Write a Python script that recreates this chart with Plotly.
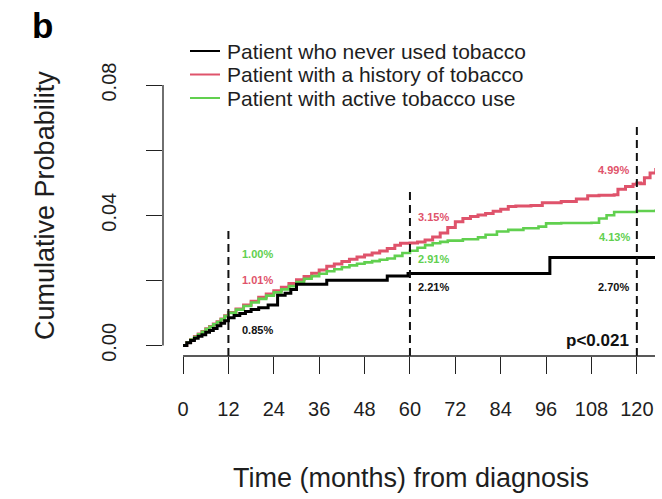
import plotly.graph_objects as go

# Cumulative incidence curves by tobacco status (months from diagnosis)
never_t = [0, 1, 2, 3, 4, 5, 6, 7, 8, 9, 10, 11, 12, 13.5, 15, 16.5, 18, 20, 22.5,
           25, 27, 28.5, 30, 38, 54, 59.5, 97, 125]
never_y = [0, 0.0008, 0.0015, 0.0022, 0.0028, 0.0033, 0.0040, 0.0046, 0.0052, 0.0060,
           0.0068, 0.0076, 0.0085, 0.0092, 0.0098, 0.0104, 0.0110, 0.0116, 0.0124,
           0.0154, 0.0160, 0.0172, 0.0188, 0.0200, 0.0213, 0.0221, 0.0270, 0.0270]

history_t = [0, 1, 2, 3, 4, 5, 6, 7, 8, 9, 10, 11, 12, 14, 16, 18, 20, 22, 24, 26, 28,
             30, 32, 34, 36, 38, 40, 42, 44, 46, 48, 50, 52, 54, 56, 57.5, 60, 62, 64,
             66, 68, 70, 72, 74, 76, 78, 80, 82, 84, 86, 88, 92, 95, 100, 104, 107, 110,
             114, 115, 117, 119, 120, 121, 122, 123.5, 125]
history_y = [0, 0.0009, 0.0018, 0.0027, 0.0035, 0.0043, 0.0051, 0.0058, 0.0066, 0.0073,
             0.0081, 0.0091, 0.0101, 0.0112, 0.0124, 0.0136, 0.0148, 0.0158, 0.0168,
             0.0179, 0.0190, 0.0202, 0.0212, 0.0222, 0.0232, 0.0243, 0.0250, 0.0258,
             0.0265, 0.0272, 0.0278, 0.0284, 0.0290, 0.0298, 0.0308, 0.0314, 0.0315,
             0.0318, 0.0324, 0.0333, 0.0345, 0.0362, 0.0380, 0.0390, 0.0396, 0.0401,
             0.0405, 0.0412, 0.0418, 0.0427, 0.0428, 0.0430, 0.0438, 0.0442, 0.0450,
             0.0460, 0.0461, 0.0463, 0.0480, 0.0488, 0.0495, 0.0499, 0.0497, 0.0515,
             0.0530, 0.0545]

active_t = [0, 1, 2, 3, 4, 5, 6, 7, 8, 9, 10, 11, 12, 14, 16, 18, 20, 22, 24, 26, 28,
            30, 32, 34, 36, 38, 40, 42, 44, 46, 48, 50, 52, 54, 56, 58, 60, 62, 64, 66,
            68, 70, 74, 78, 80, 83, 86, 90, 94, 96, 100, 108, 110, 112, 114, 120, 124, 125]
active_y = [0, 0.0009, 0.0018, 0.0026, 0.0034, 0.0042, 0.0050, 0.0057, 0.0065, 0.0072,
            0.0080, 0.0090, 0.0100, 0.0110, 0.0121, 0.0132, 0.0143, 0.0153, 0.0163,
            0.0172, 0.0182, 0.0195, 0.0205, 0.0213, 0.0220, 0.0228, 0.0234, 0.0240,
            0.0246, 0.0251, 0.0255, 0.0259, 0.0263, 0.0267, 0.0275, 0.0284, 0.0291,
            0.0300, 0.0308, 0.0314, 0.0318, 0.0322, 0.0326, 0.0332, 0.0340, 0.0350,
            0.0355, 0.0360, 0.0365, 0.0375, 0.0376, 0.0377, 0.0390, 0.0400, 0.0410,
            0.0413, 0.0413, 0.0418]

series_names = ["Patient who never used tobacco",
                "Patient with a history of tobacco",
                "Patient with active tobacco use"]
series_colors = ["#000000", "#DF536B", "#61D04F"]

# Milestone estimates (months, cumulative probability in %)
milestones = [12, 60, 120]
never_pct = [0.85, 2.21, 2.70]
history_pct = [1.01, 3.15, 4.99]
active_pct = [1.00, 2.91, 4.13]
p_text = "p<0.021"

x_ticks = [0, 12, 24, 36, 48, 60, 72, 84, 96, 108, 120]
y_ticks = [0, 0.02, 0.04, 0.06, 0.08]
y_ticktext = ["0.00", "", "0.04", "", "0.08"]

FONT = "Liberation Sans, Arial, sans-serif"
TXT = "#1e1e1e"

fig = go.Figure()
for t, y, c, w in [(history_t, history_y, series_colors[1], 3),
                   (active_t, active_y, series_colors[2], 2.6),
                   (never_t, never_y, series_colors[0], 3)]:
    fig.add_trace(go.Scatter(x=t, y=y, mode="lines", line=dict(color=c, width=w, shape="hv"),
                             showlegend=False, hoverinfo="skip"))

Y0, Y1 = -0.00326, 0.0877
shapes = []
# dashed reference lines at the milestones
dash_tops = [0.0361, 0.0471, 0.0673]
for m, top in zip(milestones, dash_tops):
    shapes.append(dict(type="line", xref="x", yref="y", x0=m, x1=m, y0=Y0, y1=top,
                       line=dict(color="#111111", width=2, dash="8px,5px")))
# axis lines in base-graphics style
shapes.append(dict(type="line", xref="x", yref="paper", x0=0, x1=125, y0=0, y1=0,
                   line=dict(color="#222222", width=1.3)))
shapes.append(dict(type="line", xref="paper", yref="y", x0=0, x1=0, y0=0, y1=0.08,
                   line=dict(color="#222222", width=1.3)))

annotations = []
# percentage labels
label_pos = {
    "never": ([19.8, 66.1, 113.7], [0.0047, 0.0178, 0.0178]),
    "history": ([19.8, 66.1, 113.7], [0.0201, 0.0394, 0.0539]),
    "active": ([19.8, 66.1, 114.2], [0.0281, 0.0267, 0.0332]),
}
for key, pcts, col in [("never", never_pct, "#111111"),
                       ("history", history_pct, series_colors[1]),
                       ("active", active_pct, series_colors[2])]:
    xs, ys = label_pos[key]
    for x, y, p in zip(xs, ys, pcts):
        annotations.append(dict(x=x, y=y, xref="x", yref="y", text=f"<b>{p:.2f}%</b>",
                                showarrow=False, font=dict(family=FONT, size=11, color=col)))
annotations.append(dict(x=109.7, y=0.0015, xref="x", yref="y", text=f"<b>{p_text}</b>",
                        showarrow=False, font=dict(family=FONT, size=17, color="#111111")))

# legend drawn by hand
leg_y = [1.0304, 0.951, 0.8716]
for name, col, ly in zip(series_names, series_colors, leg_y):
    shapes.append(dict(type="line", xref="paper", yref="paper", x0=0.0549, x1=0.1159,
                       y0=ly, y1=ly, line=dict(color=col, width=2)))
    annotations.append(dict(x=0.126, y=ly, xref="paper", yref="paper", text=name,
                            xanchor="left", yanchor="middle", showarrow=False,
                            font=dict(family=FONT, size=21, color=TXT)))

# axis titles and panel letter
annotations.append(dict(x=-0.24, y=0.51, xref="paper", yref="paper", text="Cumulative Probability",
                        textangle=-90, showarrow=False, xanchor="center", yanchor="middle",
                        font=dict(family=FONT, size=27, color=TXT)))
annotations.append(dict(x=0.504, y=-0.412, xref="paper", yref="paper",
                        text="Time (months) from diagnosis", showarrow=False,
                        xanchor="center", yanchor="middle",
                        font=dict(family=FONT, size=27, color=TXT)))
annotations.append(dict(x=-0.244, y=1.118, xref="paper", yref="paper", text="<b>b</b>",
                        showarrow=False, xanchor="center", yanchor="middle",
                        font=dict(family=FONT, size=35, color="#000000")))

fig.update_layout(
    width=662, height=499,
    margin=dict(l=163, r=7, t=60, b=143),
    paper_bgcolor="white", plot_bgcolor="white",
    showlegend=False,
    shapes=shapes, annotations=annotations,
    xaxis=dict(range=[-5.3, 124.8], tickmode="array", tickvals=x_ticks,
               ticktext=[str(v) for v in x_ticks], ticks="outside", ticklen=17,
               tickwidth=1.3, tickcolor="#222222", showgrid=False, zeroline=False,
               showline=False, ticklabelstandoff=18,
               tickfont=dict(family=FONT, size=20, color=TXT)),
    yaxis=dict(range=[Y0, Y1], tickmode="array", tickvals=y_ticks, ticktext=y_ticktext,
               ticks="outside", ticklen=16, tickwidth=1.3, tickcolor="#222222",
               showgrid=False, zeroline=False, showline=False, tickangle=-90,
               ticklabelstandoff=22,
               tickfont=dict(family=FONT, size=20, color=TXT)),
)

fig.write_html("out.html")
